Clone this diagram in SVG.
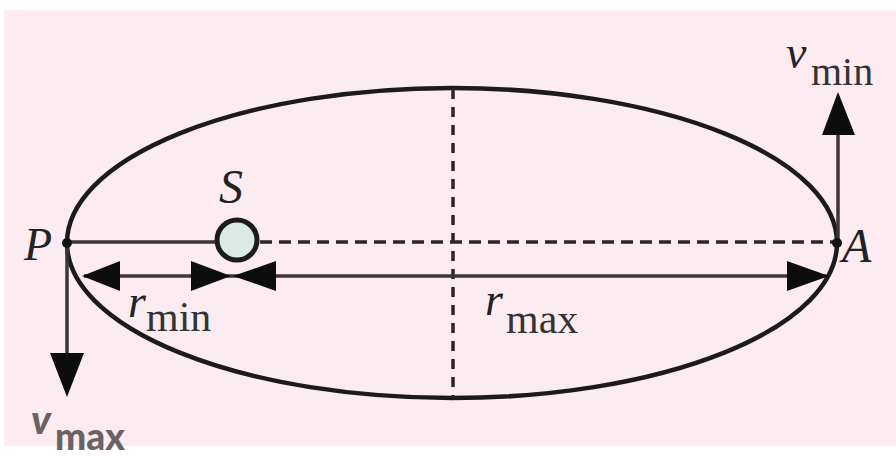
<svg xmlns="http://www.w3.org/2000/svg" width="896" height="460" viewBox="0 0 896 460">
<defs>
<style>
.bg{fill:#fcecf1}
.orbit{fill:none;stroke:#1c1a1b;stroke-width:4.5}
.line{stroke:#3a3537;stroke-width:3.5;fill:none}
.dash{stroke:#2a2628;stroke-width:3.5;fill:none;stroke-dasharray:12 7}
.vdash{stroke:#2a2628;stroke-width:3.5;fill:none;stroke-dasharray:10 8}
.head{fill:#0d0d0d}
.lab{font-family:"Liberation Serif",serif;font-style:italic;fill:#222}
.sub{font-family:"Liberation Serif",serif;fill:#333}
.gray{font-family:Lato,"DejaVu Sans",sans-serif;font-weight:900;fill:#6b6264}
</style>
</defs>
<rect x="0" y="0" width="896" height="460" fill="#ffffff"/>
<rect class="bg" x="4" y="10" width="892" height="436"/>
<g id="orbit">
<ellipse class="orbit" cx="452" cy="243" rx="385" ry="155"/>
</g>
<g id="connectors">
<line class="line" x1="67" y1="242" x2="216" y2="242"/>
<line class="dash" x1="260" y1="242" x2="834" y2="242"/>
<line class="vdash" x1="453" y1="89" x2="453" y2="397"/>
<line class="line" x1="84" y1="276" x2="826" y2="276"/>
<polygon class="head" points="82,276 120,261 120,291"/>
<polygon class="head" points="231,276 191,261 191,291"/>
<polygon class="head" points="233,276 276,261 276,291"/>
<polygon class="head" points="829,276 787,261 787,291"/>
<line class="line" x1="67" y1="243" x2="67" y2="356"/>
<polygon class="head" points="67,397 50,353 84,353"/>
<line class="line" x1="838" y1="243" x2="838" y2="132"/>
<polygon class="head" points="838,92 822,135 855,135"/>
</g>
<g id="P">
<circle cx="67" cy="243" r="5" fill="#111"/>
<text class="lab" x="24" y="260" font-size="46">P</text>
</g>
<g id="A">
<circle cx="837" cy="243" r="5" fill="#111"/>
<text class="lab" x="842" y="262" font-size="48">A</text>
</g>
<g id="S">
<circle cx="237" cy="240" r="20" fill="#d9ebe4" stroke="#1c1a1b" stroke-width="5"/>
<text class="lab" x="219" y="203" font-size="48">S</text>
</g>
<g id="rmin">
<text class="lab" x="128" y="317" font-size="46">r</text>
<text class="sub" x="146" y="331" font-size="42">min</text>
</g>
<g id="rmax">
<text class="lab" x="485" y="315" font-size="46">r</text>
<text class="sub" x="506" y="333" font-size="42">max</text>
</g>
<g id="vmin">
<text class="lab" x="786" y="68" font-size="46">v</text>
<text class="sub" x="811" y="85" font-size="40">min</text>
</g>
<g id="vmax">
<text class="gray" x="31" y="434" font-size="40" font-style="italic">v</text>
<text class="gray" x="55" y="450" font-size="37">max</text>
</g>
</svg>
